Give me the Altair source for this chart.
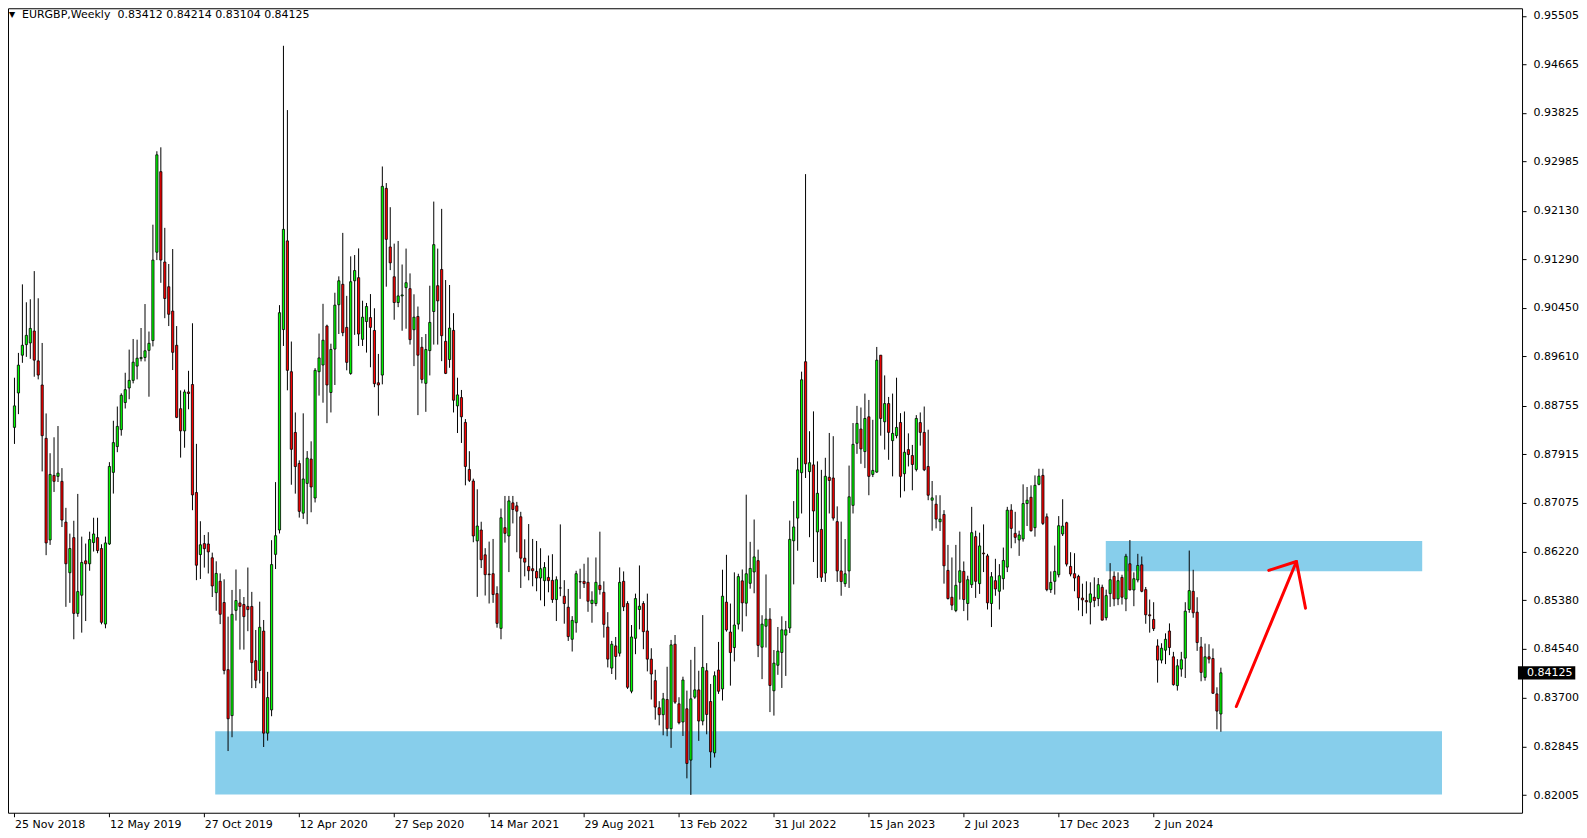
import altair as alt
import pandas as pd

# ---- weekly EURGBP candles, first week = 25 Nov 2018 ----
opens = [
    0.88377, 0.88973, 0.89627, 0.89810, 0.89839, 0.90046, 0.89529, 0.89111, 0.88187, 0.86427,
    0.87545, 0.87528, 0.87442, 0.86736, 0.85859, 0.86467, 0.85154, 0.85469, 0.86065, 0.86014,
    0.86381, 0.86467, 0.86278, 0.84970, 0.86358, 0.87597, 0.88044, 0.88337, 0.88807, 0.89059,
    0.89191, 0.89438, 0.89568, 0.89588, 0.89711, 0.89881, 0.91411, 0.92806, 0.91241, 0.90813,
    0.90391, 0.89799, 0.88700, 0.88316, 0.88990, 0.89119, 0.87248, 0.86173, 0.86363, 0.86357,
    0.86118, 0.85513, 0.85711, 0.85343, 0.84180, 0.83384, 0.85207, 0.85336, 0.85309, 0.85275,
    0.85275, 0.84336, 0.84166, 0.84848, 0.83080, 0.83483, 0.86177, 0.86600, 0.90071, 0.91607,
    0.89341, 0.88289, 0.87752, 0.86891, 0.87406, 0.87828, 0.87153, 0.89341, 0.89457, 0.90133,
    0.88981, 0.89733, 0.90501, 0.90855, 0.90109, 0.89311, 0.90916, 0.90970, 0.89902, 0.90210,
    0.90279, 0.90056, 0.89149, 0.89283, 0.92517, 0.91502, 0.90986, 0.90539, 0.90654, 0.90797,
    0.90780, 0.90068, 0.90298, 0.89765, 0.89139, 0.89707, 0.90384, 0.90831, 0.91112, 0.89868,
    0.89552, 0.90057, 0.88749, 0.88893, 0.88463, 0.87648, 0.87448, 0.86410, 0.86599, 0.86169,
    0.85836, 0.85842, 0.85497, 0.84895, 0.86639, 0.86495, 0.87069, 0.87017, 0.86828, 0.86111,
    0.85968, 0.85928, 0.85882, 0.85767, 0.85721, 0.85778, 0.85727, 0.85394, 0.85595, 0.85452,
    0.85262, 0.84706, 0.84993, 0.85705, 0.85710, 0.85693, 0.85325, 0.85325, 0.85641, 0.85520,
    0.84918, 0.84207, 0.84591, 0.84465, 0.85710, 0.85325, 0.83806, 0.84723, 0.85222, 0.85325,
    0.84850, 0.84362, 0.83989, 0.83520, 0.83399, 0.83663, 0.83157, 0.84620, 0.83588, 0.83273,
    0.83502, 0.82613, 0.83703, 0.83829, 0.83290, 0.84161, 0.83628, 0.82739, 0.84173, 0.83846,
    0.85349, 0.84832, 0.84563, 0.84969, 0.85718, 0.85331, 0.85675, 0.85872, 0.86068, 0.84569,
    0.84932, 0.85055, 0.83814, 0.84256, 0.84477, 0.84778, 0.84901, 0.86412, 0.86805, 0.87592,
    0.89514, 0.87610, 0.87727, 0.86566, 0.86609, 0.85853, 0.87512, 0.87500, 0.86744, 0.85890,
    0.85669, 0.85890, 0.87026, 0.88101, 0.88348, 0.87958, 0.88560, 0.87562, 0.87602, 0.89627,
    0.88474, 0.88789, 0.88147, 0.88233, 0.88462, 0.87574, 0.87992, 0.87889, 0.87648, 0.88460,
    0.88290, 0.87700, 0.87115, 0.87046, 0.86742, 0.86868, 0.85899, 0.85434, 0.85205, 0.85693,
    0.85882, 0.85326, 0.85652, 0.86484, 0.85670, 0.86200, 0.86151, 0.85326, 0.85721, 0.85538,
    0.85756, 0.85956, 0.86943, 0.86541, 0.86427, 0.86444, 0.87057, 0.87166, 0.86639, 0.87390,
    0.87545, 0.86828, 0.85566, 0.85710, 0.85824, 0.86530, 0.86725, 0.85968, 0.85842, 0.85796,
    0.85420, 0.85377, 0.85348, 0.85434, 0.85411, 0.85606, 0.85079, 0.85497, 0.85796, 0.85405,
    0.85778, 0.85405, 0.86014, 0.85560, 0.85733, 0.85996, 0.85566, 0.85130, 0.85050, 0.84591,
    0.84345, 0.84517, 0.84849, 0.84402, 0.83903, 0.84190, 0.84379, 0.85222, 0.85537, 0.85176,
    0.84574, 0.84046, 0.84402, 0.84373, 0.83760, 0.83412,
]
highs = [
    0.89237, 0.89667, 0.90854, 0.90544, 0.90596, 0.91084, 0.90613, 0.89839, 0.88618, 0.87929,
    0.88205, 0.88400, 0.87671, 0.86983, 0.86536, 0.86759, 0.87224, 0.86484, 0.86364, 0.86570,
    0.86811, 0.86811, 0.86352, 0.86484, 0.87774, 0.88491, 0.88738, 0.88967, 0.89323, 0.89724,
    0.89908, 0.89896, 0.90098, 0.90513, 0.90037, 0.91888, 0.93160, 0.93228, 0.91833, 0.91207,
    0.91466, 0.90132, 0.89017, 0.89031, 0.89357, 0.90180, 0.88091, 0.86751, 0.86513, 0.86561,
    0.86207, 0.86057, 0.85847, 0.85745, 0.85098, 0.85561, 0.85915, 0.85574, 0.85438, 0.85949,
    0.85527, 0.84867, 0.85357, 0.85040, 0.84142, 0.86423, 0.87429, 0.90494, 0.94987, 0.93873,
    0.89864, 0.88635, 0.87805, 0.88620, 0.87966, 0.88135, 0.89403, 0.90002, 0.90517, 0.90156,
    0.89826, 0.90709, 0.90993, 0.91746, 0.90655, 0.91339, 0.91362, 0.91477, 0.90571, 0.90532,
    0.90686, 0.90440, 0.89649, 0.92896, 0.92609, 0.92191, 0.91560, 0.91606, 0.91198, 0.91474,
    0.91044, 0.90682, 0.90470, 0.89942, 0.89994, 0.90831, 0.92288, 0.91474, 0.92162, 0.90929,
    0.90843, 0.90355, 0.89237, 0.89025, 0.88520, 0.87964, 0.87488, 0.87304, 0.86742, 0.86284,
    0.86398, 0.86444, 0.85624, 0.86971, 0.87189, 0.87189, 0.87189, 0.87086, 0.86914, 0.86438,
    0.86702, 0.86444, 0.86409, 0.86283, 0.86042, 0.86157, 0.86180, 0.85796, 0.86696, 0.85730,
    0.85578, 0.85107, 0.85893, 0.85928, 0.86014, 0.86123, 0.85537, 0.86123, 0.86570, 0.85710,
    0.85176, 0.84677, 0.84746, 0.85951, 0.85882, 0.85366, 0.84953, 0.85497, 0.85985, 0.85366,
    0.85497, 0.84551, 0.84178, 0.83634, 0.83777, 0.84230, 0.84695, 0.84780, 0.83702, 0.84058,
    0.83817, 0.84350, 0.84574, 0.84161, 0.85125, 0.84293, 0.83932, 0.84150, 0.84660, 0.85911,
    0.86169, 0.85325, 0.85865, 0.85841, 0.85915, 0.87211, 0.86394, 0.86781, 0.86259, 0.85122,
    0.85829, 0.85245, 0.84520, 0.84919, 0.85104, 0.85024, 0.86762, 0.87100, 0.87850, 0.89342,
    0.92764, 0.88310, 0.88654, 0.87788, 0.87641, 0.87850, 0.88280, 0.88224, 0.87008, 0.86744,
    0.86443, 0.87715, 0.88452, 0.88749, 0.88721, 0.88962, 0.88852, 0.88508, 0.89770, 0.89627,
    0.89277, 0.88904, 0.88962, 0.89237, 0.88623, 0.88652, 0.88273, 0.88073, 0.88589, 0.88635,
    0.88738, 0.88336, 0.87448, 0.87201, 0.87201, 0.86943, 0.86341, 0.86123, 0.86341, 0.86570,
    0.86054, 0.85807, 0.87000, 0.86587, 0.86553, 0.86696, 0.86186, 0.85870, 0.86100, 0.86008,
    0.86295, 0.87000, 0.87046, 0.86914, 0.86587, 0.87390, 0.87344, 0.87373, 0.87545, 0.87660,
    0.87660, 0.86885, 0.85882, 0.86329, 0.86840, 0.87132, 0.86742, 0.86214, 0.86197, 0.85824,
    0.85669, 0.85710, 0.85693, 0.85778, 0.85767, 0.85652, 0.85566, 0.86025, 0.85882, 0.85865,
    0.85824, 0.86186, 0.86426, 0.85865, 0.86186, 0.86140, 0.85612, 0.85394, 0.85348, 0.84706,
    0.84637, 0.84809, 0.84981, 0.84488, 0.84362, 0.84488, 0.85348, 0.86243, 0.85910, 0.85434,
    0.84746, 0.84631, 0.84620, 0.84546, 0.83874, 0.84214,
]
lows = [
    0.88090, 0.88606, 0.89495, 0.89598, 0.89564, 0.89254, 0.89208, 0.87614, 0.86163, 0.86341,
    0.87258, 0.87430, 0.86650, 0.85268, 0.85337, 0.84706, 0.85096, 0.84821, 0.85022, 0.85893,
    0.86226, 0.86197, 0.84965, 0.84896, 0.86341, 0.87230, 0.87947, 0.88233, 0.88704, 0.88864,
    0.89139, 0.89208, 0.89520, 0.89520, 0.88908, 0.89779, 0.91275, 0.90881, 0.90268, 0.90132,
    0.89370, 0.88537, 0.87853, 0.88024, 0.88690, 0.86942, 0.85730, 0.85751, 0.85948, 0.85846,
    0.85438, 0.85200, 0.84969, 0.84098, 0.82770, 0.83009, 0.85030, 0.84527, 0.84527, 0.84846,
    0.83860, 0.83860, 0.83942, 0.82840, 0.82950, 0.83373, 0.85923, 0.86538, 0.89787, 0.89019,
    0.87383, 0.87229, 0.86814, 0.86791, 0.86699, 0.86906, 0.87076, 0.88927, 0.88804, 0.88450,
    0.88635, 0.89111, 0.89994, 0.89956, 0.89365, 0.89288, 0.89979, 0.89787, 0.89787, 0.89672,
    0.89418, 0.89073, 0.88580, 0.89122, 0.90814, 0.91101, 0.90241, 0.90459, 0.90051, 0.90086,
    0.89811, 0.89438, 0.88589, 0.89139, 0.88646, 0.89277, 0.89811, 0.89811, 0.89524, 0.89300,
    0.89409, 0.88635, 0.88279, 0.88107, 0.87373, 0.87430, 0.86387, 0.85441, 0.85940, 0.85464,
    0.85326, 0.85337, 0.84907, 0.84706, 0.86381, 0.85870, 0.86713, 0.86214, 0.85595, 0.85796,
    0.85727, 0.85624, 0.85538, 0.85380, 0.85279, 0.85520, 0.85337, 0.85022, 0.85452, 0.84976,
    0.84677, 0.84494, 0.84821, 0.85406, 0.85595, 0.85182, 0.84993, 0.85279, 0.85480, 0.84735,
    0.84219, 0.84104, 0.84006, 0.84408, 0.85194, 0.83846, 0.83771, 0.84448, 0.84878, 0.84534,
    0.84150, 0.83662, 0.83313, 0.83215, 0.83043, 0.83026, 0.82825, 0.83588, 0.83232, 0.83031,
    0.82297, 0.82010, 0.83674, 0.82946, 0.83215, 0.83060, 0.82481, 0.82659, 0.83760, 0.83645,
    0.84838, 0.83903, 0.84322, 0.84876, 0.84840, 0.85104, 0.85583, 0.85503, 0.84397, 0.84016,
    0.84563, 0.83445, 0.83384, 0.84090, 0.83863, 0.84071, 0.84815, 0.85657, 0.86240, 0.86885,
    0.87500, 0.86474, 0.86044, 0.85767, 0.85700, 0.85700, 0.86885, 0.86762, 0.85700, 0.85460,
    0.85614, 0.85595, 0.86885, 0.87918, 0.87746, 0.87671, 0.87201, 0.87516, 0.87591, 0.88233,
    0.87992, 0.87815, 0.87528, 0.88187, 0.87161, 0.87270, 0.87700, 0.87287, 0.87614, 0.88061,
    0.87619, 0.87115, 0.86587, 0.86627, 0.86582, 0.85670, 0.85394, 0.85211, 0.85176, 0.85394,
    0.85194, 0.85033, 0.85595, 0.85423, 0.85492, 0.85870, 0.85222, 0.84918, 0.85460, 0.85222,
    0.85566, 0.85870, 0.86283, 0.86369, 0.86151, 0.86398, 0.86668, 0.86570, 0.86484, 0.87373,
    0.86685, 0.85538, 0.85509, 0.85480, 0.85778, 0.86495, 0.85968, 0.85796, 0.85538, 0.85205,
    0.85107, 0.85153, 0.84964, 0.85262, 0.85279, 0.85033, 0.85033, 0.85268, 0.85279, 0.85297,
    0.85308, 0.85193, 0.85555, 0.85279, 0.85692, 0.85520, 0.84975, 0.84821, 0.84849, 0.83955,
    0.84288, 0.84276, 0.84431, 0.83903, 0.83817, 0.84058, 0.84035, 0.85165, 0.85079, 0.84505,
    0.83978, 0.83989, 0.84288, 0.83760, 0.83146, 0.83104,
]
closes = [
    0.88749, 0.89455, 0.89799, 0.89971, 0.90091, 0.89541, 0.89283, 0.88233, 0.86375, 0.87562,
    0.87442, 0.87585, 0.86771, 0.86014, 0.86278, 0.85154, 0.85532, 0.86037, 0.86014, 0.86433,
    0.86530, 0.86243, 0.85000, 0.86375, 0.87700, 0.88113, 0.88394, 0.88933, 0.89030, 0.89191,
    0.89506, 0.89575, 0.89588, 0.89704, 0.89833, 0.91275, 0.93098, 0.91275, 0.90609, 0.90336,
    0.89677, 0.88550, 0.88316, 0.88990, 0.88963, 0.87207, 0.85989, 0.86343, 0.86275, 0.86220,
    0.85629, 0.85847, 0.85139, 0.84166, 0.83329, 0.85139, 0.85377, 0.85275, 0.85098, 0.85220,
    0.84302, 0.83996, 0.84914, 0.83080, 0.83696, 0.86000, 0.86500, 0.90363, 0.91807, 0.89365,
    0.87997, 0.87698, 0.86922, 0.87483, 0.87844, 0.87344, 0.89365, 0.89580, 0.89887, 0.89111,
    0.89726, 0.90494, 0.90916, 0.90017, 0.89503, 0.90900, 0.91093, 0.89994, 0.90286, 0.90471,
    0.90109, 0.89134, 0.89111, 0.92552, 0.91634, 0.91227, 0.90539, 0.90654, 0.90671, 0.90883,
    0.89897, 0.90286, 0.89627, 0.89208, 0.89725, 0.90195, 0.91542, 0.90568, 0.89965, 0.89312,
    0.90097, 0.88847, 0.88939, 0.88560, 0.87700, 0.87459, 0.86496, 0.86668, 0.86083, 0.85825,
    0.85825, 0.85481, 0.84981, 0.86811, 0.86541, 0.87103, 0.86954, 0.86925, 0.86111, 0.86042,
    0.85893, 0.85893, 0.85767, 0.85928, 0.85951, 0.85721, 0.85394, 0.85738, 0.85595, 0.85325,
    0.84752, 0.85033, 0.85842, 0.85698, 0.85670, 0.85365, 0.85383, 0.85693, 0.85566, 0.84964,
    0.84362, 0.84620, 0.84408, 0.85692, 0.85268, 0.83875, 0.84746, 0.85411, 0.85279, 0.84838,
    0.84362, 0.84104, 0.83531, 0.83399, 0.83674, 0.83157, 0.84609, 0.83617, 0.83261, 0.84001,
    0.82555, 0.83674, 0.83829, 0.83290, 0.84219, 0.83404, 0.82756, 0.84075, 0.83806, 0.85452,
    0.84867, 0.84476, 0.84953, 0.85792, 0.85337, 0.85841, 0.85933, 0.86133, 0.84600, 0.84969,
    0.85055, 0.83906, 0.84293, 0.84502, 0.84870, 0.84870, 0.86437, 0.86652, 0.87641, 0.89201,
    0.87745, 0.87764, 0.86928, 0.87235, 0.85780, 0.87530, 0.87457, 0.86805, 0.85890, 0.85706,
    0.85841, 0.87174, 0.88083, 0.88445, 0.88004, 0.88531, 0.87528, 0.87631, 0.89541, 0.88531,
    0.88789, 0.88290, 0.88273, 0.88376, 0.87528, 0.87946, 0.87906, 0.87734, 0.88531, 0.88290,
    0.87642, 0.87201, 0.87155, 0.86788, 0.86788, 0.85979, 0.85412, 0.85297, 0.85641, 0.85893,
    0.85394, 0.85738, 0.86553, 0.85710, 0.86323, 0.86186, 0.85337, 0.85790, 0.85578, 0.85807,
    0.86071, 0.86943, 0.86627, 0.86472, 0.86513, 0.87057, 0.87115, 0.86587, 0.87373, 0.87533,
    0.86713, 0.85566, 0.85692, 0.85882, 0.86673, 0.86667, 0.86008, 0.85836, 0.85767, 0.85423,
    0.85389, 0.85354, 0.85492, 0.85377, 0.85652, 0.85038, 0.85463, 0.85738, 0.85405, 0.85721,
    0.85434, 0.86145, 0.85560, 0.85755, 0.85985, 0.85537, 0.85130, 0.85113, 0.84890, 0.84345,
    0.84551, 0.84706, 0.84563, 0.83920, 0.84247, 0.84351, 0.85193, 0.85549, 0.85165, 0.84649,
    0.84132, 0.84402, 0.84362, 0.83771, 0.83462, 0.84125,
]

date_labels = ["25 Nov 2018", "12 May 2019", "27 Oct 2019", "12 Apr 2020", "27 Sep 2020",
               "14 Mar 2021", "29 Aug 2021", "13 Feb 2022", "31 Jul 2022", "15 Jan 2023",
               "2 Jul 2023", "17 Dec 2023", "2 Jun 2024"]
label_weeks = [0, 24, 48, 72, 96, 120, 144, 168, 192, 216, 240, 264, 288]
price_ticks = [0.95505, 0.94665, 0.93825, 0.92985, 0.92130, 0.91290, 0.90450, 0.89610,
               0.88755, 0.87915, 0.87075, 0.86220, 0.85380, 0.84540, 0.83700, 0.82845, 0.82005]

# supply / demand zones (week index start/end, price bottom/top)
zone_start = [50.75, 275.9]
zone_end = [360.9, 355.9]
zone_low = [0.82019, 0.85885]
zone_high = [0.83111, 0.86408]

# arrow (week index, price)
arrow_seg = ["shaft", "shaft", "head", "head", "head"]
arrow_ord = [0, 1, 0, 1, 2]
arrow_week = [308.9, 324.1, 317.1, 324.1, 326.4]
arrow_price = [0.83541, 0.86054, 0.85899, 0.86054, 0.85245]

GREEN = "#00ff00"
RED = "#ff0000"
FONT = "DejaVu Sans"

n = len(closes)
df = pd.DataFrame({
    "week": list(range(n)),
    "open": opens, "high": highs, "low": lows, "close": closes,
})
df["dir"] = ["up" if c >= o else "down" for o, c in zip(opens, closes)]

zones_df = pd.DataFrame({"x": zone_start, "x2": zone_end, "y": zone_low, "y2": zone_high})
arrow_df = pd.DataFrame({"seg": arrow_seg, "ord": arrow_ord, "week": arrow_week, "price": arrow_price})

last = closes[-1]
last_df = pd.DataFrame({"x": [380.1], "x2": [394.6], "y": [last - 0.00115], "y2": [last + 0.00115],
                        "tx": [382.4], "ty": [last], "label": [f"{last:.5f}"]})
title_df = pd.DataFrame({"t": [f"EURGBP,Weekly\u00a0 {opens[-1]:.5f} {highs[-1]:.5f} {lows[-1]:.5f} {closes[-1]:.5f}"]})

xs = alt.Scale(domain=[-0.375, 379.875], nice=False, zero=False)
ys = alt.Scale(domain=[0.81701, 0.95637], nice=False, zero=False)

label_expr = "[" + ",".join(f"'{d}'" for d in date_labels) + "][round(datum.value/24)]"
x_axis = alt.Axis(values=label_weeks, labelExpr=label_expr, labelAlign="left", labelBaseline="top",
                  labelPadding=2, tickSize=4, domain=False, grid=False, title=None,
                  labelOverlap=False, labelFlush=False)
y_axis = alt.Axis(values=price_ticks, format=".5f", orient="right", tickSize=4, labelPadding=7,
                  domain=False, grid=False, title=None, labelOverlap=False, labelFlush=False)

zones = alt.Chart(zones_df).mark_rect(color="#87ceeb", opacity=1).encode(
    x=alt.X("x:Q", scale=xs, axis=x_axis), x2="x2:Q",
    y=alt.Y("y:Q", scale=ys, axis=y_axis), y2="y2:Q",
)

base = alt.Chart(df)
wicks = base.mark_rule(color="black", strokeWidth=1).encode(
    x=alt.X("week:Q", scale=xs), y=alt.Y("low:Q", scale=ys), y2="high:Q",
)
bodies = base.mark_bar(size=2.2, stroke="black", strokeWidth=0.8).encode(
    x=alt.X("week:Q", scale=xs), y=alt.Y("open:Q", scale=ys), y2="close:Q",
    color=alt.Color("dir:N", scale=alt.Scale(domain=["up", "down"], range=[GREEN, RED]), legend=None),
)

arrow = alt.Chart(arrow_df).mark_line(color="#ff0000", strokeWidth=3, strokeCap="round", strokeJoin="round").encode(
    x=alt.X("week:Q", scale=xs), y=alt.Y("price:Q", scale=ys),
    detail="seg:N", order="ord:Q",
)

price_box = alt.Chart(last_df).mark_rect(color="black").encode(
    x=alt.X("x:Q", scale=xs), x2="x2:Q", y=alt.Y("y:Q", scale=ys), y2="y2:Q",
)
price_txt = alt.Chart(last_df).mark_text(align="left", baseline="middle", font=FONT, fontSize=11,
                                         color="white").encode(
    x=alt.X("tx:Q", scale=xs), y=alt.Y("ty:Q", scale=ys), text="label:N",
)

tri = alt.Chart(title_df).mark_text(text="\u25bc", align="left", baseline="middle", font=FONT,
                                    fontSize=8, color="black").encode(
    x=alt.value(1), y=alt.value(7),
)
title = alt.Chart(title_df).mark_text(align="left", baseline="middle", font=FONT, fontSize=11,
                                      color="black").encode(
    x=alt.value(14), y=alt.value(7), text="t:N",
)

chart = alt.layer(zones, wicks, bodies, arrow, price_box, price_txt, tri, title).properties(
    width=1515, height=805,
    padding=0,
    background="white",
).configure_view(
    stroke="black", strokeWidth=1,
).configure_axis(
    labelFont=FONT, labelFontSize=11, labelColor="black", tickColor="black", tickWidth=1,
)

chart.save("out.html", embed_options={"renderer": "svg", "actions": False})
